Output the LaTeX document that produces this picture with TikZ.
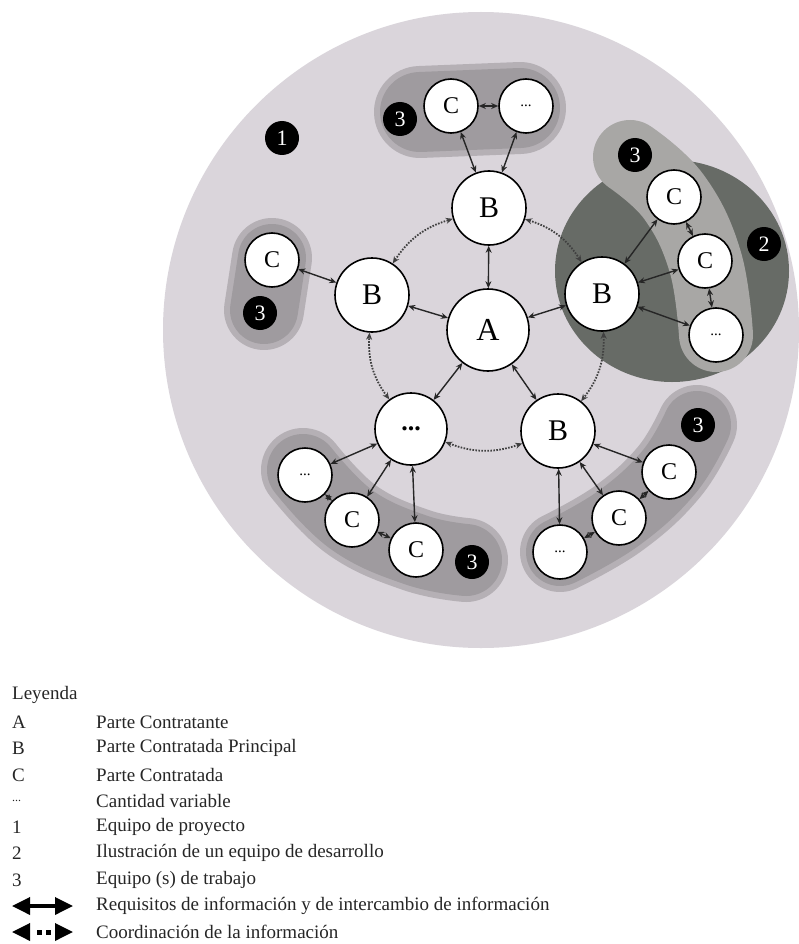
\documentclass[tikz,border=0pt]{standalone}
\usepackage{fontspec}
\setmainfont{Liberation Serif}
\usetikzlibrary{arrows.meta}
\definecolor{bgc}{HTML}{DAD5DB}
\definecolor{rimc}{HTML}{B5B0B5}
\definecolor{blobc}{HTML}{9F9B9F}
\definecolor{darkc}{HTML}{676B66}
\definecolor{bandc}{HTML}{A8A7A5}
\begin{document}
\begin{tikzpicture}[x=1pt,y=-1pt,
  nd/.style={circle,draw=black,fill=white,line width=1.6pt,inner sep=0pt},
  bignd/.style={nd,minimum size=74pt,font=\fontsize{30}{30}\selectfont},
  anode/.style={nd,minimum size=82pt,font=\fontsize{32}{32}\selectfont},
  smallnd/.style={nd,minimum size=54pt,font=\fontsize{24}{24}\selectfont},
  dotsnd/.style={nd,minimum size=54pt,font=\fontsize{15}{15}\selectfont},
  badge/.style={circle,fill=black,text=white,minimum size=34pt,inner sep=0pt,font=\fontsize{22}{22}\selectfont},
  arr/.style={{Stealth[length=7pt,width=6pt]}-{Stealth[length=7pt,width=6pt]},line width=1.4pt,draw=black!85},
  dotarr/.style={{Stealth[length=7pt,width=6pt]}-{Stealth[length=7pt,width=6pt]},line width=1.8pt,draw=black!75,dash pattern=on 1.6pt off 1.4pt},
  blobrim/.style={draw=rimc,line cap=round,line join=round},
  blobin/.style={draw=blobc,line cap=round,line join=round},
  legtext/.style={anchor=west,font=\fontsize{19}{19}\selectfont,text=black!85,inner sep=0pt},
  legarrow/.style={line width=3.5pt,draw=black,{Triangle[length=18pt,width=17pt]}-{Triangle[length=18pt,width=17pt]}}
]
\useasboundingbox (0,0) rectangle (798,944);
\fill[white] (0,0) rectangle (798,944);
% project team
\fill[bgc] (481,330) circle (318);
% development team (2)
\fill[darkc] (672,271) ellipse [x radius=117, y radius=111];
\draw[draw=bandc,line width=74pt,line cap=round,line join=round] plot[smooth,tension=0.7] coordinates {(630,157) (674,197) (705,261) (716,335)};
% work teams (3)
\draw[blobrim,line width=92pt] (420,112) -- (520,108);
\draw[blobin,line width=80pt] (420,112) -- (520,108);
\draw[blobrim,line width=80pt] (272,258) -- (264,310);
\draw[blobin,line width=68pt] (272,258) -- (264,310);
\draw[blobrim,line width=84pt] plot[smooth,tension=0.7] coordinates {(303,470) (352,520) (416,550) (466,560)};
\draw[blobin,line width=72pt] plot[smooth,tension=0.7] coordinates {(303,470) (352,520) (416,550) (466,560)};
\draw[blobrim,line width=80pt] plot[smooth,tension=0.7] coordinates {(560,552) (619,518) (669,472) (697,425)};
\draw[blobin,line width=68pt] plot[smooth,tension=0.7] coordinates {(560,552) (619,518) (669,472) (697,425)};
% badges
\node[badge] (b1) at (282,138) {1};
\node[badge] (b3t) at (400,119) {3};
\node[badge] (b3l) at (260,313) {3};
\node[badge] (b3r) at (635,155) {3};
\node[badge] (b2) at (764,244) {2};
\node[badge] (b3br) at (698,425) {3};
\node[badge] (b3bl) at (472,562) {3};
% main nodes
\node[anode] (A) at (488,330) {A};
\node[bignd] (Bt) at (489,208) {B};
\node[bignd] (Bl) at (372,295) {B};
\node[bignd] (Br) at (602,294) {B};
\node[bignd] (Bbr) at (558,431) {B};
\node[nd,minimum size=72pt,font=\fontsize{26}{26}\selectfont\bfseries] (Dbl) at (411,429) {...};
% sub nodes
\node[smallnd] (Ct) at (451,106) {C};
\node[dotsnd] (Dt) at (526,106) {...};
\node[smallnd] (Cl) at (272,260) {C};
\node[smallnd] (Cr1) at (674,197) {C};
\node[smallnd] (Cr2) at (705,261) {C};
\node[dotsnd] (Dr) at (716,335) {...};
\node[dotsnd] (Dl) at (305,475) {...};
\node[smallnd] (Cl1) at (352,520) {C};
\node[smallnd] (Cl2) at (416,550) {C};
\node[smallnd] (Cb1) at (669,472) {C};
\node[smallnd] (Cb2) at (619,518) {C};
\node[dotsnd] (Db) at (560,552) {...};
% information exchange
\draw[arr] (Ct) -- (Dt);
\draw[arr] (Ct) -- (Bt);
\draw[arr] (Dt) -- (Bt);
\draw[arr] (Bt) -- (A);
\draw[arr] (Bl) -- (A);
\draw[arr] (Br) -- (A);
\draw[arr] (Dbl) -- (A);
\draw[arr] (Bbr) -- (A);
\draw[arr] (Cl) -- (Bl);
\draw[arr] (Br) -- (Cr1);
\draw[arr] (Br) -- (Cr2);
\draw[arr] (Br) -- (Dr);
\draw[arr] (Cr1) -- (Cr2);
\draw[arr] (Cr2) -- (Dr);
\draw[arr] (Dbl) -- (Dl);
\draw[arr] (Dbl) -- (Cl1);
\draw[arr] (Dbl) -- (Cl2);
\draw[arr] (Cl1) -- (Dl);
\draw[arr] (Cl1) -- (Cl2);
\draw[arr] (Bbr) -- (Cb1);
\draw[arr] (Bbr) -- (Cb2);
\draw[arr] (Bbr) -- (Db);
\draw[arr] (Cb1) -- (Cb2);
\draw[arr] (Cb2) -- (Db);
% coordination
\draw[dotarr] (Bt) to[bend left=20] (Br);
\draw[dotarr] (Br) to[bend left=20] (Bbr);
\draw[dotarr] (Bbr) to[bend left=20] (Dbl);
\draw[dotarr] (Dbl) to[bend left=20] (Bl);
\draw[dotarr] (Bl) to[bend left=20] (Bt);
% legend
\node[legtext] (lt) at (12,695) {Leyenda};
\node[legtext] (kA) at (12,722) {A};
\node[legtext] (kB) at (12,748) {B};
\node[legtext] (kC) at (12,775) {C};
\node[legtext,font=\fontsize{12}{12}\selectfont] (kD) at (12,801) {...};
\node[legtext] (k1) at (12,827) {1};
\node[legtext] (k2) at (12,853) {2};
\node[legtext] (k3) at (12,880) {3};
\node[legtext] (tA) at (96,722) {Parte Contratante};
\node[legtext] (tB) at (96,748) {Parte Contratada Principal};
\node[legtext] (tC) at (96,775) {Parte Contratada};
\node[legtext] (tD) at (96,801) {Cantidad variable};
\node[legtext] (t1) at (96,827) {Equipo de proyecto};
\node[legtext] (t2) at (96,853) {Ilustración de un equipo de desarrollo};
\node[legtext] (t3) at (96,880) {Equipo (s) de trabajo};
\node[legtext] (t4) at (96,906) {Requisitos de información y de intercambio de información};
\node[legtext] (t5) at (96,932) {Coordinación de la información};
\coordinate (la1) at (12,906);
\coordinate (la2) at (73,906);
\draw[legarrow] (la1) -- (la2);
\coordinate (lb1) at (12,932);
\coordinate (lb2) at (73,932);
\draw[legarrow,dash pattern=on 0pt off 200pt] (lb1) -- (lb2);
\fill[black] (36.5,929.5) rectangle (41.5,934.5);
\fill[black] (45.5,929.5) rectangle (50.5,934.5);
\end{tikzpicture}
\end{document}
